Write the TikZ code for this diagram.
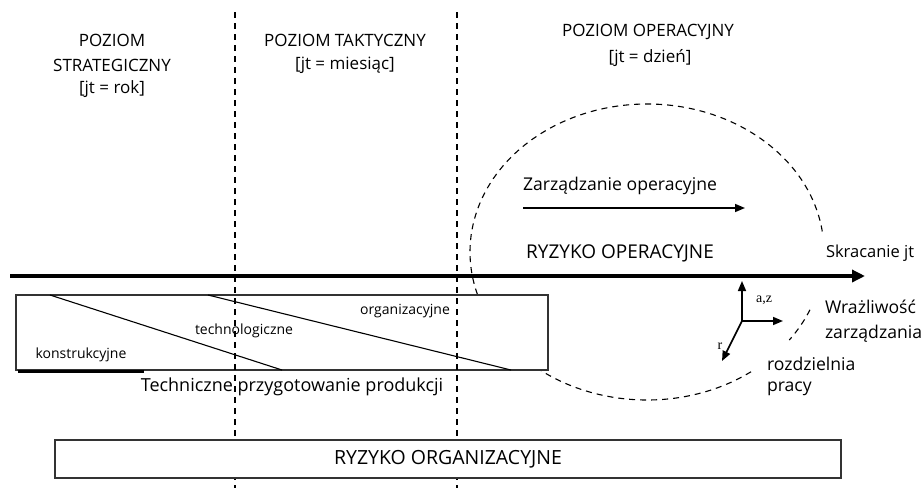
\documentclass[tikz,border=0pt]{standalone}
\usepackage{fontspec}
\setmainfont{Open Sans}
\newfontfamily\axisfont{Liberation Serif}
\usetikzlibrary{arrows.meta}

\begin{document}
\begin{tikzpicture}[x=1pt,y=-1pt,
  every node/.style={inner sep=0pt, outer sep=0pt},
  title/.style={font=\fontsize{17}{20}\selectfont},
  lbl/.style={font=\fontsize{16.5}{19}\selectfont},
  mid/.style={font=\fontsize{17.6}{20}\selectfont},
  big/.style={font=\fontsize{19}{22}\selectfont},
  small/.style={font=\fontsize{14}{16}\selectfont},
  axlbl/.style={font=\axisfont\fontsize{14}{16}\selectfont},
  sep/.style={line width=1.1pt, dash pattern=on 6pt off 5pt},
  orbit/.style={line width=1.1pt, dash pattern=on 6pt off 5pt},
  framebox/.style={draw=black!80, line width=1.3pt, fill=white},
  thin/.style={line width=1.1pt},
  axis/.style={line width=1.6pt, -{Triangle[length=10pt,width=8pt]}},
  timeline/.style={line width=4pt, -{Triangle[length=13pt,width=12pt]}}
]
\useasboundingbox (0,0) rectangle (923,488);

% level headings
\node[title] (s1) at (112,40) {POZIOM};
\node[title] (s2) at (112,65) {STRATEGICZNY};
\node[title] (s3) at (112,89) {[jt = rok]};
\node[title] (t1) at (345,40) {POZIOM TAKTYCZNY};
\node[title] (t2) at (345,65) {[jt = miesiąc]};
\node[title] (o1) at (648,32) {POZIOM OPERACYJNY};
\node[title] (o2) at (650,58) {[jt = dzień]};

% operational risk ellipse (dashed, interrupted around labels)
\coordinate (ec) at (647,252);
\draw[orbit] ([shift={(-8:177 and 148)}]ec) arc[start angle=-8, end angle=-200, x radius=177, y radius=148];
\draw[orbit] ([shift={(23:177 and 148)}]ec) arc[start angle=23, end angle=36.5, x radius=177, y radius=148];
\draw[orbit] ([shift={(54:177 and 148)}]ec) arc[start angle=54, end angle=140, x radius=177, y radius=148];

% technical preparation of production
\node[framebox, minimum width=532pt, minimum height=75pt, anchor=north west] (tpp) at (16,295) {};
\draw[thin] (50,295) -- (282,370);
\draw[thin] (208,295) -- (511,370);
\draw[line width=3pt] (18,371) -- (144,371);
\node[small] (kon) at (81,355) {konstrukcyjne};
\node[small] (tech) at (244,331) {technologiczne};
\node[small] (org) at (405,311) {organizacyjne};
\node[font=\fontsize{18}{21}\selectfont] (tppl) at (292,387) {Techniczne przygotowanie produkcji};

% level separators
\draw[sep] (235,12) -- (235,488);
\draw[sep] (457,12) -- (457,488);

% organisational risk
\node[framebox, minimum width=786pt, minimum height=38pt, anchor=north west] (ro) at (55,440) {};
\node[font=\fontsize{19.5}{22}\selectfont] (rol) at (448,459) {RYZYKO ORGANIZACYJNE};

% time axis
\coordinate (tl) at (10,276);
\coordinate (tr) at (865,276);
\draw[timeline] (tl) -- (tr);
\node[lbl, anchor=west] (skr) at (826,253) {Skracanie jt};
\node[big] (rop) at (620,253) {RYZYKO OPERACYJNE};

% operational management
\node[mid] (zo) at (620,186) {Zarządzanie operacyjne};
\coordinate (zo1) at (523,208);
\coordinate (zo2) at (745,208);
\draw[axis] (zo1) -- (zo2);

% sensitivity axes
\coordinate (ax0) at (742,321);
\coordinate (axu) at (742,281);
\coordinate (axr) at (783,321);
\coordinate (axd) at (722,361);
\draw[axis] (ax0) -- (axu);
\draw[axis] (ax0) -- (axr);
\draw[axis] (ax0) -- (axd);
\node[axlbl] (az) at (764,300) {a,z};
\node[axlbl] (rr) at (720,346) {r};

\node[mid, anchor=west] (wr1) at (825,307) {Wrażliwość};
\node[mid, anchor=west] (wr2) at (825,334) {zarządzania};
\node[mid, anchor=west] (rp1) at (767,364) {rozdzielnia};
\node[mid, anchor=west] (rp2) at (767,389) {pracy};
\end{tikzpicture}
\end{document}
